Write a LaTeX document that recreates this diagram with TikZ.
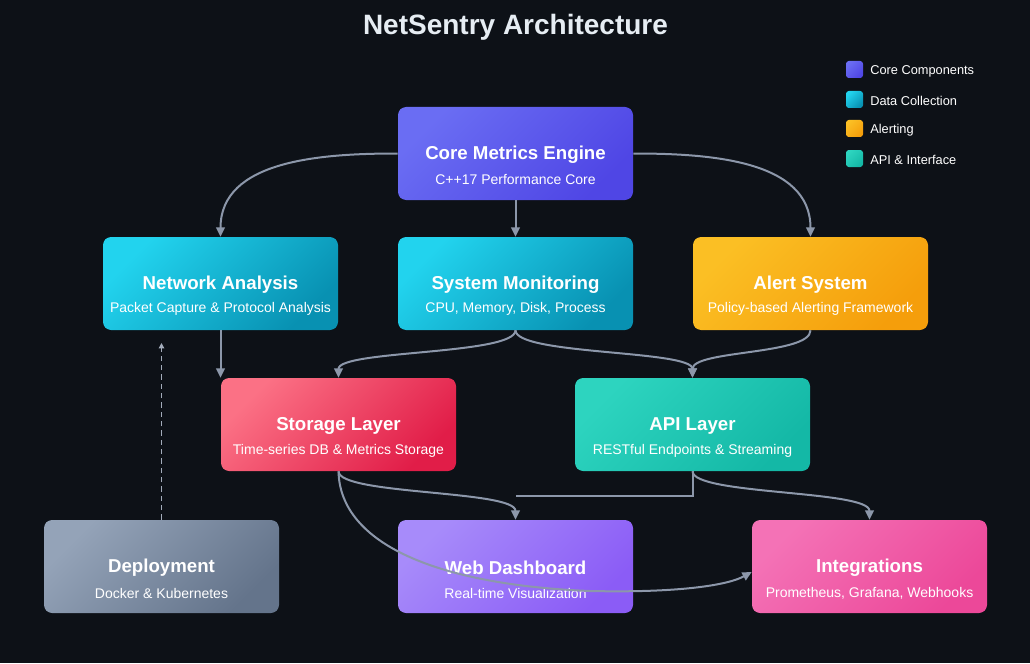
\documentclass[tikz,border=0pt]{standalone}
\usepackage{fontspec}
\setmainfont{Liberation Sans}
\usetikzlibrary{arrows.meta}
\definecolor{bg}{HTML}{0D1117}
\definecolor{wire}{HTML}{8C97AA}
\definecolor{headtxt}{HTML}{E6EDF3}
\tikzset{
  grad/.style 2 args={path picture={\shade[top color=#1, bottom color=#2, shading angle=45]
    (path picture bounding box.south west) rectangle (path picture bounding box.north east);}},
  box/.style={rounded corners=6pt, minimum width=176.25pt, minimum height=69.75pt, inner sep=0pt},
  corebox/.style={box, grad={corelight}{coredark}},
  databox/.style={box, grad={datalight}{datadark}},
  alertbox/.style={box, grad={alertlight}{alertdark}},
  apibox/.style={box, grad={apilight}{apidark}},
  storebox/.style={box, grad={storelight}{storedark}},
  webbox/.style={box, grad={weblight}{webdark}},
  intbox/.style={box, grad={intlight}{intdark}},
  depbox/.style={box, grad={deplight}{depdark}},
  ttl/.style={text=white, font=\bfseries\fontsize{14}{17}\selectfont},
  sub/.style={text=white, font=\fontsize{10.5}{12.5}\selectfont},
  conn/.style={draw=wire, line width=1.5pt, -{Triangle[length=7pt,width=6.5pt]}},
  key/.style={rounded corners=2pt, minimum size=12.75pt, inner sep=0pt},
  keytxt/.style={text=white, anchor=west, inner sep=0pt, font=\fontsize{9.6}{11.5}\selectfont}
}
\definecolor{corelight}{HTML}{6A6DF3}\definecolor{coredark}{HTML}{4F46E5}
\definecolor{datalight}{HTML}{22D3EE}\definecolor{datadark}{HTML}{0891B2}
\definecolor{alertlight}{HTML}{FBBF24}\definecolor{alertdark}{HTML}{F59E0B}
\definecolor{apilight}{HTML}{2DD4BF}\definecolor{apidark}{HTML}{14B8A6}
\definecolor{storelight}{HTML}{FB7185}\definecolor{storedark}{HTML}{E11D48}
\definecolor{weblight}{HTML}{A78BFA}\definecolor{webdark}{HTML}{8B5CF6}
\definecolor{intlight}{HTML}{F472B6}\definecolor{intdark}{HTML}{EC4899}
\definecolor{deplight}{HTML}{94A3B8}\definecolor{depdark}{HTML}{64748B}
\begin{document}
\begin{tikzpicture}[x=0.75pt, y=-0.75pt]
  \fill[bg] (0,0) rectangle (1030,663);
  \useasboundingbox (0,0) rectangle (1030,663);
  \node[text=headtxt, font=\bfseries\fontsize{21}{25}\selectfont] (title) at (515.5,27) {NetSentry Architecture};
  % boxes
  \node[corebox] (core) at (515.5,153.5) {};
  \node[databox] (net) at (220.5,283.5) {};
  \node[databox] (sys) at (515.5,283.5) {};
  \node[alertbox] (alert) at (810.5,283.5) {};
  \node[storebox] (store) at (338.5,424.5) {};
  \node[apibox] (api) at (692.5,424.5) {};
  \node[depbox] (dep) at (161.5,566.5) {};
  \node[webbox] (web) at (515.5,566.5) {};
  \node[intbox] (integ) at (869.5,566.5) {};
  % round off the corners of the shaded boxes
  \foreach \bx in {core,net,sys,alert,store,api,dep,web,integ} {
    \fill[bg] (\bx.north west) -- ++(6pt,0pt) arc[start angle=90, end angle=180, radius=6pt] -- cycle;
    \fill[bg] (\bx.north east) -- ++(0pt,-6pt) arc[start angle=0, end angle=90, radius=6pt] -- cycle;
    \fill[bg] (\bx.south east) -- ++(-6pt,0pt) arc[start angle=270, end angle=360, radius=6pt] -- cycle;
    \fill[bg] (\bx.south west) -- ++(0pt,6pt) arc[start angle=180, end angle=270, radius=6pt] -- cycle;
  }
  % texts
  \node[ttl] (core-t) at (515.5,155) {Core Metrics Engine};
  \node[sub] (core-s) at (515.5,180) {C++17 Performance Core};
  \node[ttl] (net-t) at (220.5,285) {Network Analysis};
  \node[sub] (net-s) at (220.5,309) {Packet Capture \& Protocol Analysis};
  \node[ttl] (sys-t) at (515.5,285) {System Monitoring};
  \node[sub] (sys-s) at (515.5,309) {CPU, Memory, Disk, Process};
  \node[ttl] (alert-t) at (810.5,285) {Alert System};
  \node[sub] (alert-s) at (810.5,309) {Policy-based Alerting Framework};
  \node[ttl] (store-t) at (338.5,426) {Storage Layer};
  \node[sub] (store-s) at (338.5,451) {Time-series DB \& Metrics Storage};
  \node[ttl] (api-t) at (692.5,426) {API Layer};
  \node[sub] (api-s) at (692.5,451) {RESTful Endpoints \& Streaming};
  \node[ttl] (dep-t) at (161.5,568) {Deployment};
  \node[sub] (dep-s) at (161.5,593) {Docker \& Kubernetes};
  \node[ttl] (web-t) at (515.5,568) {Web Dashboard};
  \node[sub] (web-s) at (515.5,593) {Real-time Visualization};
  \node[ttl] (integ-t) at (869.5,568) {Integrations};
  \node[sub] (integ-s) at (869.5,593) {Prometheus, Grafana, Webhooks};
  % legend
  \node[key, grad={corelight}{coredark}] (k1) at (854.5,69.5) {};
  \node[key, grad={datalight}{datadark}] (k2) at (854.5,99.5) {};
  \node[key, grad={alertlight}{alertdark}] (k3) at (854.5,128.5) {};
  \node[key, grad={apilight}{apidark}] (k4) at (854.5,158.5) {};
  \foreach \k in {k1,k2,k3,k4} {
    \fill[bg] (\k.north west) -- ++(2pt,0pt) arc[start angle=90, end angle=180, radius=2pt] -- cycle;
    \fill[bg] (\k.north east) -- ++(0pt,-2pt) arc[start angle=0, end angle=90, radius=2pt] -- cycle;
    \fill[bg] (\k.south east) -- ++(-2pt,0pt) arc[start angle=270, end angle=360, radius=2pt] -- cycle;
    \fill[bg] (\k.south west) -- ++(0pt,2pt) arc[start angle=180, end angle=270, radius=2pt] -- cycle;
  }
  \node[keytxt] (k1-t) at (870,71) {Core Components};
  \node[keytxt] (k2-t) at (870,100.5) {Data Collection};
  \node[keytxt] (k3-t) at (870,130) {Alerting};
  \node[keytxt] (k4-t) at (870,159.5) {API \& Interface};
  % connectors
  \coordinate (dep-up) at (161.5,343);
  \coordinate (web-join) at (516,496);
  \draw[conn] (core.west) to[out=180, in=90] (net.north);
  \draw[conn] (core.south) -- (sys.north);
  \draw[conn] (core.east) to[out=0, in=90] (alert.north);
  \draw[conn] (net.south) -- (net.south |- store.north);
  \draw[conn] (sys.south) .. controls (515.5,355) and (338.5,350) .. (store.north);
  \draw[conn] (sys.south) .. controls (515.5,355) and (692.5,350) .. (api.north);
  \draw[conn] (alert.south) .. controls (810.5,355) and (692.5,350) .. (api.north);
  \draw[conn] (store.south) .. controls (338.5,495) and (515.5,490) .. (web.north);
  \draw[conn] (store.south) .. controls (340,545) and (440,585) .. (590,591)
    .. controls (680,593) and (728,585) .. (integ.west |- 0,572);
  \draw[conn] (api.south) .. controls (692.5,495) and (869.5,490) .. (integ.north);
  \draw[draw=wire, line width=1.5pt] (api.south) |- (web-join);
  \draw[draw=wire!80, line width=1.2pt, dash pattern=on 4pt off 3pt,
    -{Triangle[length=4pt,width=4pt]}] (dep.north) -- (dep-up);
\end{tikzpicture}
\end{document}
